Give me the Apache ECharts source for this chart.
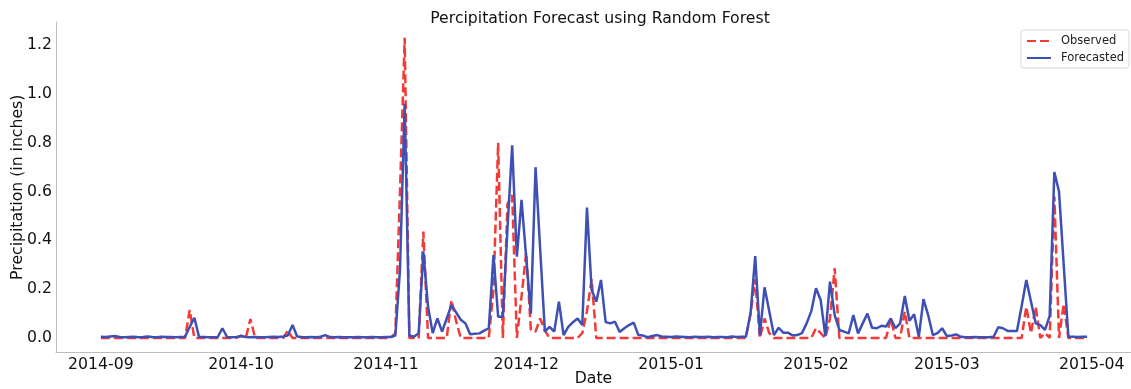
<!DOCTYPE html>
<html><head><meta charset="utf-8">
<script src="https://cdn.jsdelivr.net/npm/echarts@6/dist/echarts.min.js"></script>
<style>html,body{margin:0;padding:0;background:#fff}#c{width:1131px;height:389px}</style>
</head><body><div id="c"></div>
<script>
// Daily series starting 2014-09-01 (one value per day)
const startDate = '2014-09-01';
const observed = [
  0,0,0,0,0,0,0,0,0,0,
  0,0,0,0,0,0,0,0,0,0.115,
  0,0,0,0,0,0,0,0,0,0,
  0.01,0,0.078,0,0,0,0,0,0,0,
  0.03,0,0,0,0,0,0,0,0,0,
  0,0,0,0,0,0,0,0,0,0,
  0,0,0,0.02,0.6,1.23,0,0,0,0.436,
  0,0,0,0,0,0.156,0.07,0,0,0,
  0,0,0,0,0.2,0.8,0,0.55,0.586,0,
  0.17,0.35,0.033,0.026,0.08,0.03,0,0,0,0,
  0,0,0,0.02,0.11,0.24,0,0,0,0,
  0,0,0,0,0,0,0,0,0,0,
  0,0,0,0,0,0,0,0,0,0,
  0,0,0,0,0,0,0,0,0,0.1,
  0.24,0,0.08,0.02,0,0,0,0,0,0,
  0,0,0,0.04,0.02,0,0.08,0.286,0,0,
  0,0,0,0,0,0,0,0,0,0.08,
  0,0,0.108,0,0,0,0,0,0,0,
  0,0,0,0,0,0,0,0,0,0,
  0,0,0,0,0,0,0,0,0.128,0.02,
  0.128,0,0.02,0,0.58,0,0.14,0,0,0,
  0,0
];
const forecasted = [
  0.005,0.004,0.006,0.008,0.004,0.003,0.004,0.005,0.003,0.004,
  0.006,0.004,0.003,0.005,0.004,0.004,0.003,0.004,0.005,0.045,
  0.083,0.005,0.004,0.003,0.003,0.004,0.04,0.004,0.003,0.004,
  0.008,0.004,0.003,0.004,0.003,0.003,0.004,0.005,0.004,0.006,
  0.01,0.053,0.006,0.004,0.003,0.004,0.003,0.005,0.012,0.004,
  0.003,0.004,0.003,0.003,0.003,0.004,0.003,0.003,0.004,0.003,
  0.003,0.004,0.004,0.01,0.28,0.96,0.01,0.005,0.02,0.354,
  0.128,0.02,0.08,0.026,0.08,0.135,0.105,0.075,0.06,0.015,
  0.017,0.019,0.03,0.04,0.34,0.087,0.087,0.45,0.79,0.333,
  0.566,0.33,0.1,0.70,0.36,0.026,0.046,0.026,0.149,0.012,
  0.046,0.065,0.08,0.053,0.535,0.197,0.149,0.238,0.065,0.06,
  0.067,0.025,0.04,0.053,0.063,0.012,0.01,0.003,0.008,0.012,
  0.006,0.005,0.004,0.006,0.005,0.004,0.003,0.005,0.004,0.004,
  0.005,0.003,0.004,0.004,0.003,0.006,0.004,0.005,0.005,0.1,
  0.336,0.012,0.208,0.11,0.012,0.042,0.022,0.022,0.01,0.012,
  0.02,0.06,0.11,0.204,0.156,0.008,0.231,0.094,0.033,0.026,
  0.019,0.094,0.019,0.06,0.1,0.042,0.04,0.05,0.047,0.08,
  0.04,0.06,0.172,0.071,0.097,0.005,0.159,0.094,0.012,0.02,
  0.04,0.008,0.01,0.015,0.005,0.003,0.003,0.004,0.003,0.003,
  0.003,0.005,0.044,0.04,0.029,0.029,0.029,0.13,0.238,0.15,
  0.06,0.053,0.033,0.091,0.68,0.6,0.3,0.005,0.005,0.004,
  0.005,0.005
];
const xTickDates = ['2014-09-01','2014-10-01','2014-11-01','2014-12-01','2015-01-01','2015-02-01','2015-03-01','2015-04-01'];
const xTickLabels = ['2014-09','2014-10','2014-11','2014-12','2015-01','2015-02','2015-03','2015-04'];
const yTicks = [0, 0.2, 0.4, 0.6, 0.8, 1.0, 1.2];
const seriesNames = ['Observed', 'Forecasted'];

// x is measured in days since startDate (UTC calendar days)
const DAY = 86400000;
const t0 = Date.parse(startDate + 'T00:00:00Z');
const dayOf = s => Math.round((Date.parse(s + 'T00:00:00Z') - t0) / DAY);
const xTicks = xTickDates.map(dayOf);
const obsData = observed.map((v, i) => [i, v]);
const fcData = forecasted.map((v, i) => [i, v]);

const FONT = 'DejaVu Sans';
const FS = 15.7;
const chart = echarts.init(document.getElementById('c'), null, {renderer: 'canvas'});
chart.setOption({
  animation: false,
  backgroundColor: '#ffffff',
  title: {
    text: 'Percipitation Forecast using Random Forest',
    left: 595, top: 6, textAlign: 'center',
    textStyle: {fontFamily: FONT, fontSize: FS, fontWeight: 'normal', color: '#111'}
  },
  legend: {
    orient: 'vertical', right: 2, top: 30,
    data: seriesNames,
    itemWidth: 24, itemHeight: 14, itemGap: 3,
    padding: [4, 5, 3, 5],
    borderColor: '#d8d8d8', borderWidth: 1, borderRadius: 3,
    backgroundColor: 'rgba(255,255,255,0.85)',
    itemStyle: {opacity: 0},
    textStyle: {fontFamily: FONT, fontSize: 11.5, lineHeight: 14, color: '#222', padding: [0, 0, 0, 5]}
  },
  grid: {left: 56, right: 0, top: 22, bottom: 36.5, outerBoundsMode: 'none', containLabel: false},
  xAxis: {
    type: 'value',
    min: -9.6, max: 220.4,
    name: 'Date', nameLocation: 'middle', nameGap: 18, nameMoveOverlap: false,
    nameTextStyle: {fontFamily: FONT, fontSize: FS, color: '#111'},
    axisLine: {show: true, onZero: false, lineStyle: {color: '#bdbdbd', width: 1}},
    axisTick: {show: false, customValues: xTicks},
    axisLabel: {
      customValues: xTicks, margin: 4,
      fontFamily: FONT, fontSize: FS, color: '#111',
      formatter: function(v){ const k = xTicks.indexOf(Math.round(v)); return k >= 0 ? xTickLabels[k] : ''; }
    },
    splitLine: {show: false}
  },
  yAxis: {
    type: 'value',
    min: -0.0594, max: 1.295,
    name: 'Precipitation (in inches)', nameLocation: 'middle', nameGap: 30, nameMoveOverlap: false,
    nameTextStyle: {fontFamily: FONT, fontSize: FS, color: '#111'},
    axisLine: {show: true, onZero: false, lineStyle: {color: '#bdbdbd', width: 1}},
    axisTick: {show: false, customValues: yTicks},
    axisLabel: {
      customValues: yTicks, margin: 4, padding: [4, 0, 0, 0],
      fontFamily: FONT, fontSize: FS, color: '#111',
      formatter: function(v){ return Number(v).toFixed(1); }
    },
    splitLine: {show: false}
  },
  series: [
    {
      name: seriesNames[0], type: 'line', data: obsData, showSymbol: false, symbol: 'none',
      lineStyle: {color: '#f23b37', width: 2.5, type: [9, 4]},
      itemStyle: {color: '#f23b37'}, z: 2
    },
    {
      name: seriesNames[1], type: 'line', data: fcData, showSymbol: false, symbol: 'none',
      lineStyle: {color: '#3f50b5', width: 2.5, type: 'solid'},
      itemStyle: {color: '#3f50b5'}, z: 3
    }
  ]
});
</script>
</body></html>
